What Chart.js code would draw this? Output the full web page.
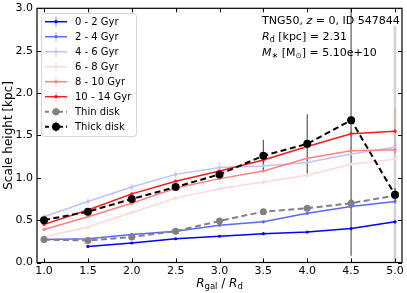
<!DOCTYPE html>
<html>
<head>
<meta charset="utf-8">
<script src="https://cdn.jsdelivr.net/npm/chart.js@4.4.0/dist/chart.umd.min.js"></script>
<style>
  html, body { margin: 0; padding: 0; background: #fff; }
  canvas { display: block; }
</style>
</head>
<body>
<canvas id="scaleHeight" width="407" height="293"></canvas>
<script>
// radial bins (R_gal / R_d)
var radii = [1.0, 1.5, 2.0, 2.5, 3.0, 3.5, 4.0, 4.5, 5.0];
var xTicks = [1.0, 1.5, 2.0, 2.5, 3.0, 3.5, 4.0, 4.5, 5.0];
var yTicks = [0.0, 0.5, 1.0, 1.5, 2.0, 2.5, 3.0];

// scale heights [kpc] per mono-age population
var h_0_2   = [null, 0.19, 0.23, 0.28, 0.31, 0.34, 0.36, 0.40, 0.48];
var h_2_4   = [0.27, 0.28, 0.33, 0.37, 0.44, 0.48, 0.58, 0.66, 0.72];
var h_4_6   = [0.54, 0.72, 0.89, 1.04, 1.12, 1.14, 1.18, 1.28, 1.36];
var h_6_8   = [0.30, 0.42, 0.59, 0.76, 0.87, 0.95, 1.03, 1.16, 1.22];
var h_8_10  = [0.39, 0.54, 0.70, 0.88, 0.99, 1.08, 1.23, 1.32, 1.33];
var h_10_14 = [0.45, 0.62, 0.81, 0.96, 1.08, 1.21, 1.37, 1.52, 1.55];
var h_thin  = [0.27, 0.26, 0.30, 0.37, 0.49, 0.60, 0.64, 0.70, 0.79];
var h_thick = [0.50, 0.60, 0.75, 0.89, 1.04, 1.26, 1.40, 1.68, 0.80];

// errors
var e_0_2   = [null, 0.01, 0.01, 0.01, 0.01, 0.01, 0.01, 0.02, 0.02];
var e_2_4   = [0.01, 0.01, 0.01, 0.01, 0.02, 0.02, 0.02, 0.02, 0.03];
var e_4_6   = [0.03, 0.04, 0.04, 0.04, 0.07, 0.04, 0.04, 0.04, 0.05];
var e_6_8   = [0.02, 0.02, 0.02, 0.02, 0.02, 0.03, 0.03, 0.03, 0.04];
var e_8_10  = [0.02, 0.02, 0.02, 0.02, 0.03, 0.03, 0.03, 0.04, 0.05];
var e_10_14 = [0.02, 0.02, 0.02, 0.02, 0.03, 0.03, 0.03, 0.04, 0.27];
var e_thin  = [0.02, 0.02, 0.02, 0.02, 0.03, 0.03, 0.03, 0.05, 2.0];
var e_thick = [0.03, 0.03, 0.03, 0.03, 0.04, 0.19, 0.35, 1.6, 0.08];

var labels = ['0 - 2 Gyr', '2 - 4 Gyr', '4 - 6 Gyr', '6 - 8 Gyr', '8 - 10 Gyr', '10 - 14 Gyr', 'Thin disk', 'Thick disk'];

var series = [
  {vals: h_0_2,   err: e_0_2,   color: 'rgb(0,0,255)',     ecol: 'rgba(0,0,255,0.4)',   dash: [], r: 1.6, w: 1.5},
  {vals: h_2_4,   err: e_2_4,   color: 'rgb(90,104,255)',  ecol: 'rgba(90,104,255,0.4)', dash: [], r: 1.6, w: 1.5},
  {vals: h_4_6,   err: e_4_6,   color: 'rgb(192,192,255)', ecol: 'rgba(170,170,255,0.5)', dash: [], r: 1.6, w: 1.5},
  {vals: h_6_8,   err: e_6_8,   color: 'rgb(255,216,216)', ecol: 'rgba(255,190,190,0.5)', dash: [], r: 1.6, w: 1.5},
  {vals: h_8_10,  err: e_8_10,  color: 'rgb(255,128,128)', ecol: 'rgba(255,128,128,0.4)', dash: [], r: 1.6, w: 1.5},
  {vals: h_10_14, err: e_10_14, color: 'rgb(255,25,25)',   ecol: 'rgba(255,60,60,0.35)',  dash: [], r: 1.6, w: 1.5},
  {vals: h_thin,  err: e_thin,  color: 'rgb(128,128,128)', ecol: 'rgba(128,128,128,0.35)', dash: [6, 3.5], r: 3.5, w: 2, ew: 2.5},
  {vals: h_thick, err: e_thick, color: 'rgb(0,0,0)',       ecol: 'rgba(0,0,0,0.65)',     dash: [6, 3.5], r: 4, w: 2}
];

var FONT = '"DejaVu Sans", sans-serif';

function drawRich(ctx, x, y, parts, align) {
  // parts: [text, size, italic, dy]
  var total = 0;
  parts.forEach(function(p){
    ctx.font = (p[2] ? 'italic ' : '') + p[1] + 'px ' + FONT;
    p.w = ctx.measureText(p[0]).width;
    total += p.w;
  });
  var cx = align === 'center' ? x - total / 2 : x;
  ctx.textBaseline = 'middle';
  ctx.textAlign = 'left';
  parts.forEach(function(p){
    ctx.font = (p[2] ? 'italic ' : '') + p[1] + 'px ' + FONT;
    ctx.fillText(p[0], cx, y + (p[3] || 0));
    cx += p.w;
  });
}

var extras = {
  id: 'extras',
  beforeDatasetsDraw: function(chart) {
    var ctx = chart.ctx, xs = chart.scales.x, ys = chart.scales.y, a = chart.chartArea;
    ctx.save();
    ctx.beginPath();
    ctx.rect(a.left, a.top, a.right - a.left, a.bottom - a.top);
    ctx.clip();
    series.forEach(function(s){
      ctx.strokeStyle = s.ecol;
      ctx.lineWidth = s.ew || 1.2;
      for (var i = 0; i < radii.length; i++) {
        if (s.vals[i] === null) continue;
        var px = xs.getPixelForValue(radii[i]);
        ctx.beginPath();
        ctx.moveTo(px, ys.getPixelForValue(s.vals[i] + s.err[i]));
        ctx.lineTo(px, ys.getPixelForValue(s.vals[i] - s.err[i]));
        ctx.stroke();
      }
    });
    ctx.restore();
  },
  afterDraw: function(chart) {
    var ctx = chart.ctx, xs = chart.scales.x, ys = chart.scales.y, a = chart.chartArea;
    ctx.save();
    // frame
    ctx.strokeStyle = '#000';
    ctx.lineWidth = 1.2;
    ctx.strokeRect(a.left, a.top, a.right - a.left, a.bottom - a.top);
    // inward ticks on all sides
    ctx.lineWidth = 1;
    xTicks.forEach(function(v){
      var px = Math.round(xs.getPixelForValue(v)) + 0.5;
      ctx.beginPath();
      ctx.moveTo(px, a.bottom); ctx.lineTo(px, a.bottom - 4);
      ctx.moveTo(px, a.top); ctx.lineTo(px, a.top + 4);
      ctx.stroke();
    });
    yTicks.forEach(function(v){
      var py = Math.round(ys.getPixelForValue(v)) + 0.5;
      ctx.beginPath();
      ctx.moveTo(a.left, py); ctx.lineTo(a.left + 4, py);
      ctx.moveTo(a.right, py); ctx.lineTo(a.right - 4, py);
      ctx.stroke();
    });

    // legend
    var lx = 41.5, ly = 13.5, lw = 95, lh = 123;
    ctx.fillStyle = 'rgba(255,255,255,0.8)';
    ctx.strokeStyle = '#d6d6d6';
    ctx.lineWidth = 1;
    ctx.beginPath();
    ctx.roundRect(lx, ly, lw, lh, 3);
    ctx.fill();
    ctx.stroke();
    series.forEach(function(s, k){
      var y = 21.7 + 15 * k;
      var x0 = 45, x1 = 67, xc = 56;
      ctx.strokeStyle = s.color;
      ctx.lineWidth = s.w;
      ctx.setLineDash(s.dash.length ? [4, 3] : []);
      ctx.beginPath();
      ctx.moveTo(x0, y); ctx.lineTo(x1, y);
      ctx.stroke();
      ctx.setLineDash([]);
      ctx.strokeStyle = s.ecol;
      ctx.lineWidth = 1.2;
      ctx.beginPath();
      ctx.moveTo(xc, y - 5); ctx.lineTo(xc, y + 5);
      ctx.stroke();
      ctx.fillStyle = s.color;
      ctx.beginPath();
      ctx.arc(xc, y, s.r, 0, Math.PI * 2);
      ctx.fill();
      ctx.fillStyle = '#000';
      ctx.font = '10px ' + FONT;
      ctx.textAlign = 'left';
      ctx.textBaseline = 'middle';
      ctx.fillText(labels[k], 75, y + 0.5);
    });

    // info text
    ctx.fillStyle = '#000';
    drawRich(ctx, 262, 21.5, [['TNG50, ', 11], ['z', 11, true], [' = 0, ID 547844', 11]]);
    drawRich(ctx, 262, 37.5, [['R', 11, true], ['d', 8, false, 2.5], [' [kpc] = 2.31', 11]]);
    drawRich(ctx, 262, 53.5, [['M', 11, true], ['\u2217', 8, false, 2.5], [' [M', 11], ['\u2299', 7.5, false, 2.5], ['] = 5.10e+10', 11]]);

    // x axis title
    drawRich(ctx, (a.left + a.right) / 2, 284, [['R', 12, true], ['gal', 8.5, false, 3], [' / ', 12], ['R', 12, true], ['d', 8.5, false, 3]], 'center');
    ctx.restore();
  }
};

var datasets = series.map(function(s, k){
  return {
    label: labels[k],
    data: radii.map(function(r, i){ return {x: r, y: s.vals[i]}; }),
    borderColor: s.color,
    backgroundColor: s.color,
    borderWidth: s.w,
    borderDash: s.dash,
    pointRadius: s.r,
    pointBorderWidth: 0,
    pointBackgroundColor: s.color,
    tension: 0,
    spanGaps: false,
    order: 10 - k
  };
});

var ctx = document.getElementById('scaleHeight').getContext('2d');
var chart = new Chart(ctx, {
  type: 'line',
  data: { datasets: datasets },
  options: {
    responsive: false,
    animation: false,
    devicePixelRatio: 1,
    layout: { padding: { top: 8.3, right: 5, left: 0, bottom: 0 } },
    plugins: { legend: { display: false }, tooltip: { enabled: false } },
    scales: {
      x: {
        type: 'linear',
        min: 0.92, max: 5.08,
        grid: { display: false, drawTicks: false },
        border: { display: false },
        afterBuildTicks: function(s){ s.ticks = xTicks.map(function(v){ return {value: v}; }); },
        afterFit: function(s){ s.height = 30.5; s.paddingLeft = 0; s.paddingRight = 0; },
        ticks: {
          color: '#000', padding: 2.5, maxRotation: 0, autoSkip: false,
          font: { family: 'DejaVu Sans', size: 11 },
          callback: function(v){ return Number(v).toFixed(1); }
        }
      },
      y: {
        min: 0, max: 3,
        grid: { display: false, drawTicks: false },
        border: { display: false },
        afterBuildTicks: function(s){ s.ticks = yTicks.map(function(v){ return {value: v}; }); },
        afterFit: function(s){ s.width = 37; s.paddingTop = 0; s.paddingBottom = 0; },
        title: {
          display: true, text: 'Scale height [kpc]', color: '#000',
          font: { family: 'DejaVu Sans', size: 12 },
          padding: { top: 1.5, bottom: 0 }
        },
        ticks: {
          color: '#000', padding: 4,
          font: { family: 'DejaVu Sans', size: 11 },
          callback: function(v){ return Number(v).toFixed(1); }
        }
      }
    }
  },
  plugins: [extras]
});
</script>
</body>
</html>
